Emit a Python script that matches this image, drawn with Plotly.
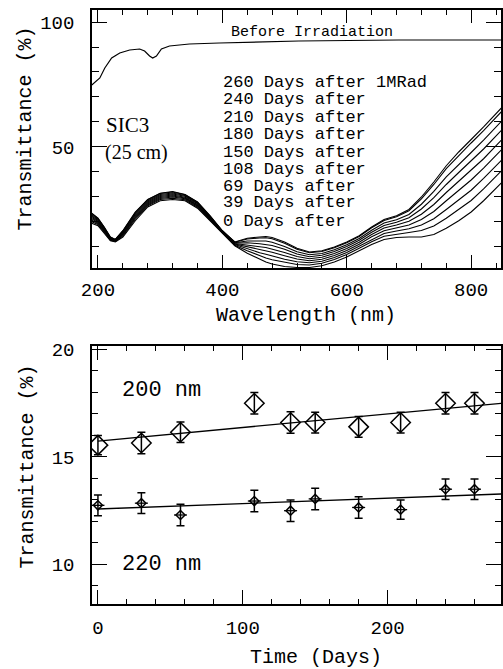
import plotly.graph_objects as go

# ---------------- Top panel data ----------------
wavelength = [190, 200, 210, 220, 228, 240, 260, 280, 300, 320, 340, 360, 380, 400, 420,
              440, 460, 470, 480, 500, 520, 540, 560, 580, 600, 620, 640, 660, 680, 700,
              720, 740, 760, 780, 800, 820, 850]

before_wl = [190, 203, 211, 222, 235, 251, 267, 275, 283, 288, 294, 302, 315, 347, 395,
             459, 523, 683, 848]
before_T = [74.8, 77.6, 81.6, 85.6, 87.6, 88.8, 89.2, 88.4, 86.4, 85.6, 86.4, 89.2, 90.4,
            91.2, 91.6, 92.0, 92.4, 92.8, 92.8]

days_0 = [19.5, 18.5, 15.5, 12.5, 12.0, 14.0, 20.5, 26.0, 28.5, 29.0, 28.5, 25.5, 20.5, 15.5, 10.5,
          7.5, 5.0, 4.0, 3.2, 2.2, 1.8, 1.8, 2.5, 4.0, 6.0, 8.5, 11.0, 13.0, 13.8, 14.0,
          14.0, 15.0, 17.5, 20.5, 24.0, 28.5, 36.0]
days_39 = [20.1, 19.0, 15.9, 12.7, 12.2, 14.4, 21.1, 26.5, 29.0, 29.5, 28.9, 25.9, 20.8, 15.7, 10.7,
           8.5, 6.4, 5.6, 4.9, 3.8, 3.0, 2.8, 3.5, 5.0, 7.0, 9.5, 12.1, 14.3, 15.2, 15.8,
           16.6, 18.4, 21.5, 24.9, 28.6, 33.2, 40.8]
days_69 = [20.7, 19.4, 16.3, 13.0, 12.3, 14.8, 21.6, 26.9, 29.4, 30.0, 29.3, 26.3, 21.1, 15.8, 11.0,
           9.3, 7.7, 7.1, 6.4, 5.1, 4.1, 3.7, 4.3, 5.8, 7.8, 10.3, 13.1, 15.4, 16.4, 17.3,
           18.8, 21.3, 25.0, 28.8, 32.7, 37.4, 45.0]
days_108 = [21.3, 19.8, 16.6, 13.2, 12.4, 15.1, 22.0, 27.3, 29.8, 30.4, 29.6, 26.6, 21.4, 15.9, 11.2,
            10.1, 9.0, 8.5, 7.9, 6.5, 5.2, 4.5, 5.1, 6.6, 8.6, 11.1, 14.1, 16.5, 17.6, 18.8,
            21.0, 24.2, 28.5, 32.6, 36.8, 41.5, 49.2]
days_150 = [21.8, 20.2, 16.9, 13.4, 12.6, 15.4, 22.5, 27.7, 30.2, 30.8, 29.9, 26.9, 21.6, 16.1, 11.4,
            10.9, 10.1, 9.8, 9.2, 7.8, 6.2, 5.3, 5.9, 7.4, 9.4, 11.9, 15.0, 17.6, 18.8, 20.3,
            23.1, 27.0, 31.8, 36.2, 40.5, 45.3, 53.1]
days_180 = [22.3, 20.6, 17.3, 13.6, 12.7, 15.8, 23.0, 28.1, 30.6, 31.2, 30.3, 27.3, 21.9, 16.2, 11.6,
            11.7, 11.3, 11.1, 10.6, 9.1, 7.2, 6.1, 6.7, 8.2, 10.2, 12.7, 15.9, 18.6, 19.9, 21.7,
            25.2, 29.7, 35.0, 39.8, 44.3, 49.2, 57.0]
days_210 = [22.8, 21.0, 17.6, 13.7, 12.8, 16.1, 23.4, 28.5, 31.0, 31.6, 30.6, 27.6, 22.1, 16.3, 11.7,
            12.4, 12.4, 12.4, 11.9, 10.2, 8.1, 6.9, 7.4, 8.9, 10.9, 13.4, 16.7, 19.6, 20.9, 23.0,
            27.1, 32.2, 38.0, 43.1, 47.8, 52.7, 60.6]
days_240 = [23.3, 21.4, 17.9, 13.9, 13.0, 16.4, 23.8, 28.9, 31.4, 32.0, 30.9, 27.9, 22.4, 16.5, 11.9,
            13.2, 13.6, 13.7, 13.3, 11.5, 9.1, 7.7, 8.2, 9.7, 11.7, 14.2, 17.7, 20.6, 22.1, 24.5,
            29.2, 35.0, 41.3, 46.6, 51.6, 56.5, 64.5]
days_260 = [23.5, 21.5, 18.0, 14.0, 13.0, 16.5, 24.0, 29.0, 31.5, 32.2, 31.0, 28.0, 22.5, 16.5, 12.0,
            13.5, 14.0, 14.2, 13.8, 12.0, 9.5, 8.0, 8.5, 10.0, 12.0, 14.5, 18.0, 21.0, 22.5, 25.0,
            30.0, 36.0, 42.5, 48.0, 53.0, 58.0, 66.0]

curves = [days_0, days_39, days_69, days_108, days_150, days_180, days_210, days_240, days_260]

legend_lines = ["260 Days after 1MRad", "240 Days after", "210 Days after", "180 Days after",
                "150 Days after", "108 Days after", "69 Days after", "39 Days after", "0 Days after"]

# ---------------- Bottom panel data ----------------
time_days = [0, 30, 57, 108, 133, 150, 180, 209, 240, 260]
T200 = [15.55, 15.65, 16.15, 17.5, 16.6, 16.6, 16.4, 16.6, 17.5, 17.5]
T200_err = [0.45, 0.5, 0.48, 0.5, 0.5, 0.48, 0.48, 0.48, 0.5, 0.5]
T220 = [12.75, 12.85, 12.3, 12.95, 12.5, 13.05, 12.65, 12.55, 13.5, 13.5]
T220_err = [0.48, 0.48, 0.5, 0.5, 0.5, 0.5, 0.5, 0.45, 0.48, 0.48]
fit200 = (15.74, 0.0063)   # intercept, slope
fit220 = (12.58, 0.0025)
fit_days = [0, 279]

MONO = "Liberation Mono"
SERIF = "Liberation Serif"

fig = go.Figure()

# Top panel
fig.add_trace(go.Scatter(x=before_wl, y=before_T, mode="lines",
                         line=dict(color="black", width=1.2), xaxis="x", yaxis="y"))
for c in curves:
    fig.add_trace(go.Scatter(x=wavelength, y=c, mode="lines",
                             line=dict(color="black", width=1.1), xaxis="x", yaxis="y"))

# Bottom panel
fig.add_trace(go.Scatter(x=fit_days, y=[fit200[0] + fit200[1] * d for d in fit_days], mode="lines",
                         line=dict(color="black", width=1.3), xaxis="x2", yaxis="y2"))
fig.add_trace(go.Scatter(x=fit_days, y=[fit220[0] + fit220[1] * d for d in fit_days], mode="lines",
                         line=dict(color="black", width=1.3), xaxis="x2", yaxis="y2"))
fig.add_trace(go.Scatter(x=time_days, y=T200, mode="markers",
                         marker=dict(symbol="diamond-open", size=15, color="black",
                                     line=dict(width=1.5, color="black")),
                         error_y=dict(type="data", array=T200_err, color="black", thickness=1.5, width=4),
                         xaxis="x2", yaxis="y2"))
fig.add_trace(go.Scatter(x=time_days, y=T220, mode="markers",
                         marker=dict(symbol="diamond-open", size=7, color="black",
                                     line=dict(width=1.5, color="black")),
                         error_y=dict(type="data", array=T220_err, color="black", thickness=1.5, width=4),
                         error_x=dict(type="constant", value=4.5, color="black", thickness=1.3, width=0),
                         xaxis="x2", yaxis="y2"))

axis_common = dict(showline=True, linecolor="black", linewidth=1.5, mirror="allticks",
                   ticks="inside", tickcolor="black", tickwidth=1.3, showgrid=False, zeroline=False,
                   tickfont=dict(family=MONO, size=19, color="black"))

fig.update_layout(
    width=503, height=669,
    margin=dict(l=92, r=0, t=10, b=65),
    paper_bgcolor="white", plot_bgcolor="white",
    showlegend=False,
    xaxis=dict(domain=[0, 1], anchor="y", range=[190.4, 848], tick0=200, dtick=200, ticklen=13,
               minor=dict(dtick=40, ticklen=5, ticks="inside", tickcolor="black", tickwidth=1.2),
               ticklabelstandoff=3, **axis_common),
    yaxis=dict(domain=[0.5657, 1], anchor="x", range=[1.6, 104.8], tick0=0, dtick=50, ticklen=15,
               minor=dict(dtick=10, ticklen=7, ticks="inside", tickcolor="black", tickwidth=1.2),
               ticklabelstandoff=12, **axis_common),
    xaxis2=dict(domain=[0, 1], anchor="y2", range=[-4.1, 278.3], tick0=0, dtick=100, ticklen=14,
                minor=dict(dtick=20, ticklen=5, ticks="inside", tickcolor="black", tickwidth=1.2),
                ticklabelstandoff=5, **axis_common),
    yaxis2=dict(domain=[0, 0.4343], anchor="x2", range=[8.16, 20.16], tick0=0, dtick=5, ticklen=15,
                minor=dict(dtick=1, ticklen=6, ticks="inside", tickcolor="black", tickwidth=1.2),
                ticklabelstandoff=12, **axis_common),
)

ann = []
title_font = dict(family=MONO, size=20, color="black")
# Axis titles
ann.append(dict(text="Transmittance (%)", x=-0.163, y=0.801, xref="paper", yref="paper",
                xanchor="center", yanchor="middle", textangle=-90, showarrow=False, font=title_font))
ann.append(dict(text="Transmittance (%)", x=-0.158, y=0.232, xref="paper", yref="paper",
                xanchor="center", yanchor="middle", textangle=-90, showarrow=False, font=title_font))
ann.append(dict(text="Wavelength (nm)", x=0.523, y=0.4865, xref="paper", yref="paper",
                xanchor="center", yanchor="middle", showarrow=False, font=title_font))
ann.append(dict(text="Time (Days)", x=0.547, y=-0.0909, xref="paper", yref="paper",
                xanchor="center", yanchor="middle", showarrow=False, font=title_font))

# Top panel labels
ann.append(dict(text="Before Irradiation", x=411, y=96, xref="x", yref="y", xanchor="left",
                yanchor="middle", showarrow=False, font=dict(family=MONO, size=15, color="black")))
legend_y = [75.6, 68.8, 61.6, 54.8, 47.6, 40.8, 34.0, 27.6, 20.0]
for txt, yy in zip(legend_lines, legend_y):
    ann.append(dict(text=txt, x=398.4, y=yy, xref="x", yref="y", xanchor="left", yanchor="middle",
                    showarrow=False, font=dict(family=MONO, size=17, color="black")))
ann.append(dict(text="SIC3", x=248, y=58.8, xref="x", yref="y", showarrow=False,
                xanchor="center", yanchor="middle", font=dict(family=SERIF, size=21, color="black")))
ann.append(dict(text="(25 cm)", x=262, y=47.6, xref="x", yref="y", showarrow=False,
                xanchor="center", yanchor="middle", font=dict(family=SERIF, size=20, color="black")))

# Bottom panel labels
ann.append(dict(text="200 nm", x=44, y=18.1, xref="x2", yref="y2", showarrow=False,
                xanchor="center", yanchor="middle", font=dict(family=MONO, size=22, color="black")))
ann.append(dict(text="220 nm", x=44, y=10.0, xref="x2", yref="y2", showarrow=False,
                xanchor="center", yanchor="middle", font=dict(family=MONO, size=22, color="black")))

fig.update_layout(annotations=ann)
fig.write_html("out.html")
